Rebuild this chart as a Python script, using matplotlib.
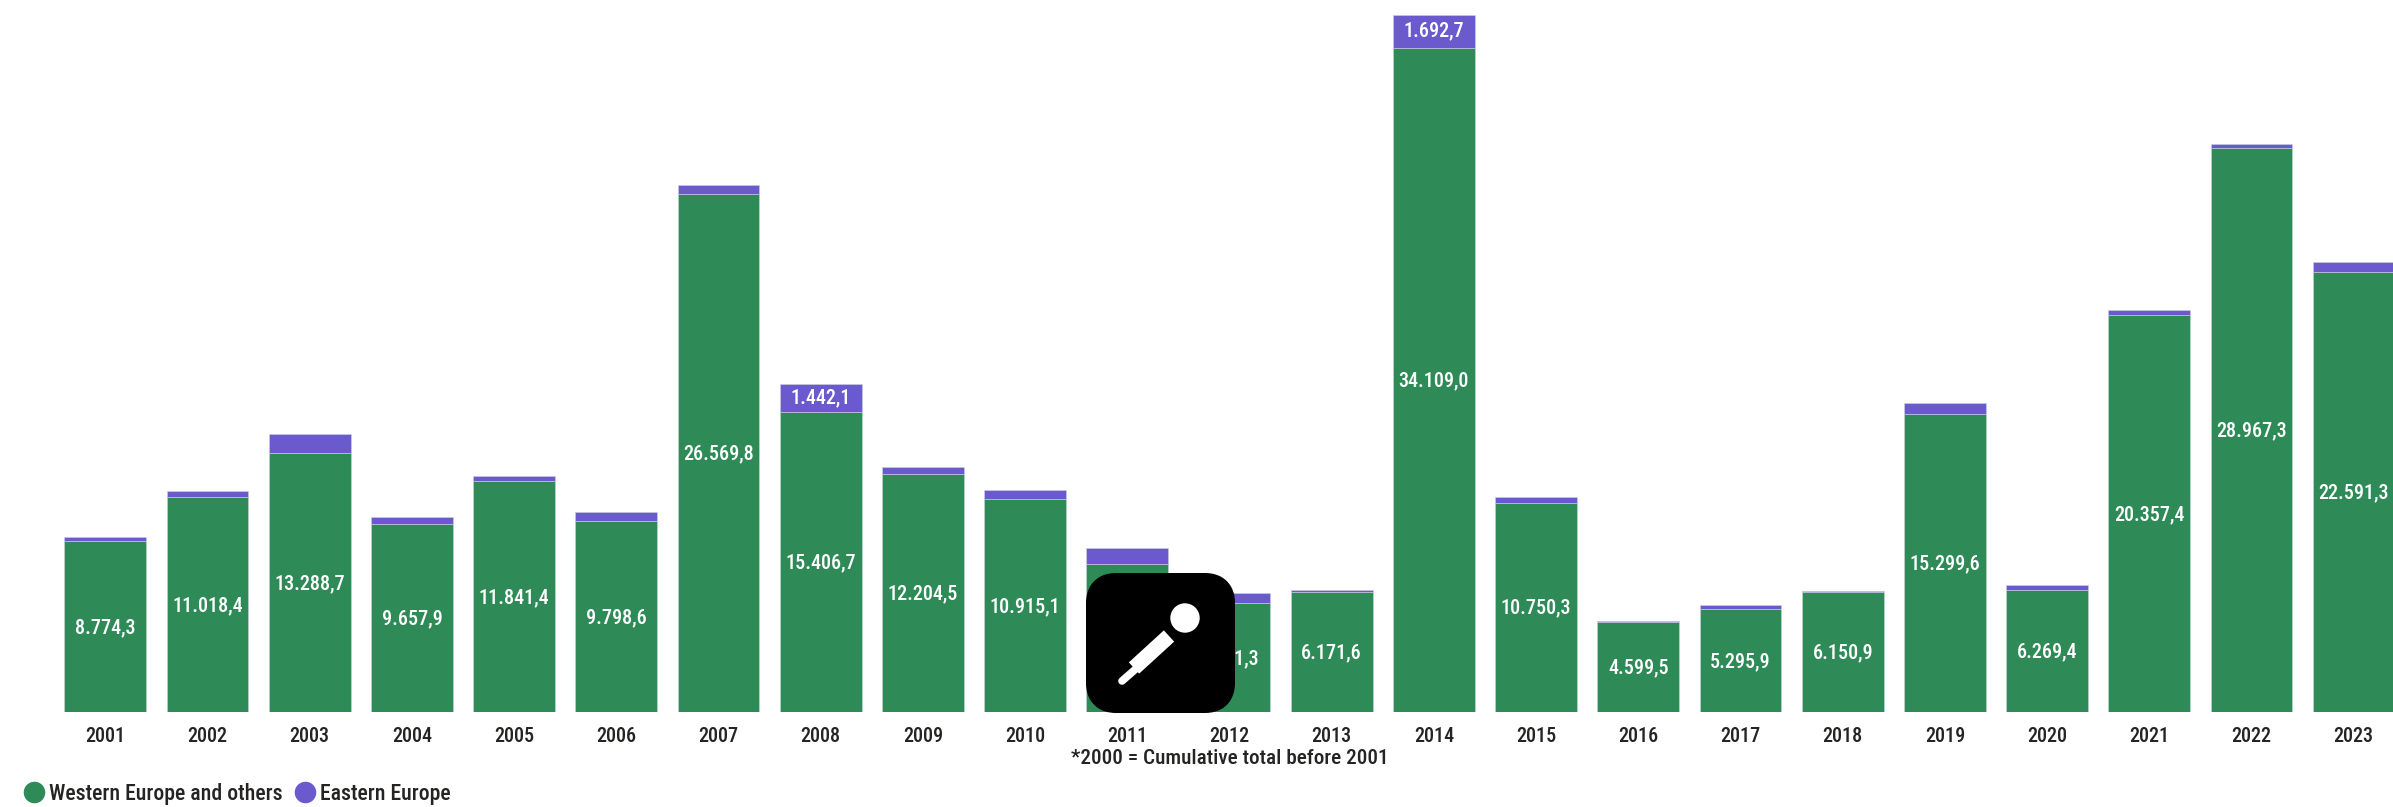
import matplotlib
matplotlib.use('Agg')
import matplotlib.pyplot as plt
from matplotlib.lines import Line2D
from matplotlib.patches import Circle, FancyBboxPatch

plt.rcParams['font.family'] = ['Roboto Condensed', 'DejaVu Sans']
plt.rcParams['font.weight'] = 500

W, H = 2393, 807

years = list(range(2001, 2024))
western = [8774.3, 11018.4, 13288.7, 9657.9, 11841.4, 9798.6, 26569.8, 15406.7,
           12204.5, 10915.1, 7610.0, 5611.3, 6171.6, 34109.0, 10750.3, 4599.5,
           5295.9, 6150.9, 15299.6, 6269.4, 20357.4, 28967.3, 22591.3]
eastern = [185, 350, 1000, 340, 270, 480, 470, 1442.1,
           390, 470, 785, 480, 70, 1692.7, 310, 60,
           210, 60, 550, 270, 270, 190, 513]
# only these purple segments have a label in the picture
eastern_labelled = [2008, 2014]

GREEN = '#2E8B57'
PURPLE = '#6A5ACD'
EDGE = '#C9D3DE'
TXT = '#252423'
FS = 14.5


def fmt(v):
    # european number format, 12.345,6
    return f'{v:,.1f}'.replace(',', '#').replace('.', ',').replace('#', '.')


fig = plt.figure(figsize=(W / 100, H / 100), dpi=100)

# axes run over the full width, baseline at y=712 px
ax = fig.add_axes([0, (H - 712) / H, 1, 712 / H])
step = 102.2
x0 = 105.3
ax.set_xlim(-x0 / step, (W - x0) / step)
ax.set_ylim(0, 712 / 0.01948)

xs = list(range(len(years)))
ax.bar(xs, western, width=0.8, color=GREEN, edgecolor=EDGE, linewidth=0.4)
ax.bar(xs, eastern, width=0.8, bottom=western, color=PURPLE, edgecolor=EDGE, linewidth=0.4)

for x, yr, w, e in zip(xs, years, western, eastern):
    ax.text(x, w / 2 - 50, fmt(w), color='white', ha='center', va='center', fontsize=FS)
    if yr in eastern_labelled:
        ax.text(x, w + e / 2, fmt(e), color='white', ha='center', va='center', fontsize=FS)

ax.set_xticks(xs)
ax.set_xticklabels(years, fontsize=FS, color=TXT)
ax.tick_params(axis='x', length=0, pad=11)
ax.tick_params(axis='y', left=False, labelleft=False)
for s in ax.spines.values():
    s.set_visible(False)

fig.text(1230 / W, 1 - 759 / H, '*2000 = Cumulative total before 2001',
         ha='center', va='center', fontsize=15.2, color=TXT)

handles = [Line2D([], [], ls='none', marker='o', ms=14.5, color=GREEN),
           Line2D([], [], ls='none', marker='o', ms=14.5, color=PURPLE)]
fig.legend(handles, ['Western Europe and others', 'Eastern Europe'], ncol=2,
           loc='center left', bbox_to_anchor=(21 / W, 1 - 794 / H), frameon=False,
           fontsize=15.7, labelcolor=TXT, handletextpad=0.1, columnspacing=0.4,
           handlelength=1.2, borderaxespad=0, borderpad=0)

# microphone overlay, drawn in pixel coordinates of the picture
ov = fig.add_axes([0, 0, 1, 1], zorder=5)
ov.set_xlim(0, W)
ov.set_ylim(H, 0)
ov.axis('off')
ov.add_patch(FancyBboxPatch((1100, 587), 121, 112, boxstyle='round,pad=0,rounding_size=16',
                            mutation_aspect=1, fc='black', ec='black', lw=28 * 0.72,
                            joinstyle='round'))
ov.add_patch(Circle((1185, 618), 14.7, fc='white', ec='none'))
ov.plot([1169, 1134], [636, 668], color='white', lw=11, solid_capstyle='butt')
ov.plot([1138, 1122], [667, 681], color='white', lw=5.5, solid_capstyle='round')

fig.savefig('out.png', dpi=100)
